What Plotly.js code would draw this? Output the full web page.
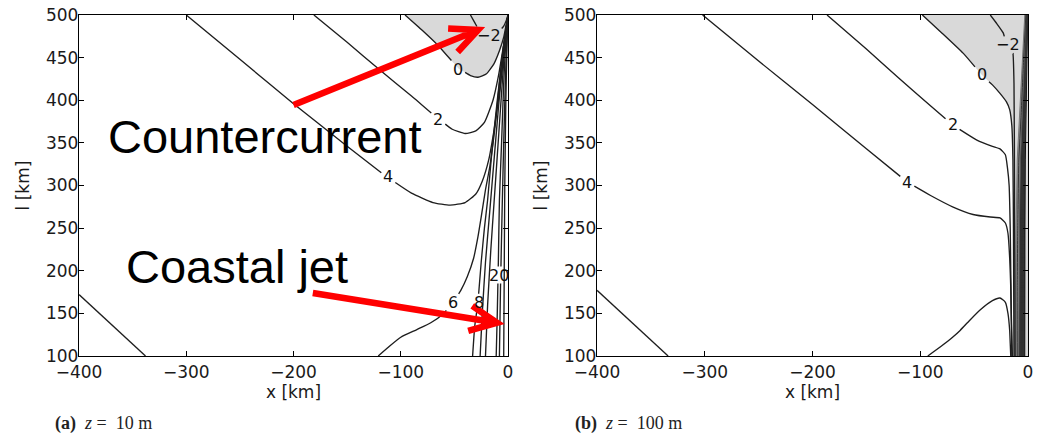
<!DOCTYPE html>
<html><head><meta charset="utf-8">
<script src="https://cdn.plot.ly/plotly-3.0.1.min.js"></script>
<style>html,body{margin:0;padding:0;background:#fff}</style>
</head><body><div id="chart" style="width:1039px;height:435px"></div>
<script>
// ---------- axes / ticks ----------
const xTicks = [-400,-300,-200,-100,0];
const yTicks = [100,150,200,250,300,350,400,450,500];
const xRange = [-400,0];
const yRange = [100,500];

// ---------- panel (a): z = 10 m ----------
const aEdgeX = [-400,-338];
const aEdgeY = [172,100];
const a4X = [-300,-250,-200,-150,-113,-90,-70,-54,-40,-30,-24,-18,-13,-9,-5,-2,0];
const a4Y = [500,448,396,346,310,291,280,277,280,290,305,330,365,400,440,475,500];
const a2X = [-181,-150,-120,-90,-66,-52,-40,-30,-22,-14,-9,-5,-2,0];
const a2Y = [500,468,436,405,379,366,361,364,374,400,428,458,482,500];
const a0X = [-96,-80,-65,-46,-35,-28,-20,-13,-8,-4,-1.5,0];
const a0Y = [500,482,464,437,429,427,431,443,458,474,490,500];
const am2X = [-35,-31,-27,-22,-15,-8,-4,-1.5,0];
const am2Y = [500,491,482,479,478,481,487,494,500];
const a6X = [-121,-110,-100,-85,-72,-60,-51,-44,-38,-32,-28,-25,-21,-17,-12,-8,-4,0];
const a6Y = [100,112,122,131,139,150,163,177,193,215,240,263,295,322,370,420,465,500];
const a8X = [-33,-31,-28,-25,-22,-19,-15,-10,-5,0];
const a8Y = [100,135,163,210,250,283,340,400,455,500];
const a10X = [-26,-24,-21,-17,-13,-9,-5,-2,0];
const a10Y = [100,150,210,270,330,390,445,480,500];
const a14X = [-21,-19,-16,-13,-10,-7,-4,-2,0];
const a14Y = [100,160,225,280,335,390,445,478,500];
const a20X = [-11,-10,-9,-8,-6,-4,-2,0];
const a20Y = [100,150,210,283,350,420,470,500];
const a30X = [-8,-7,-5.5,-4,-2.5,-1,0];
const a30Y = [100,180,270,350,420,475,500];
const a40X = [-4,-3.5,-3,-2,-1,0];
const a40Y = [100,200,300,400,460,500];
const aLabelText = ['4','2','0','\u22122','6','8','20'];
const aLabelX = [-111.6,-65,-46.5,-17.5,-51,-27,-8.4];
const aLabelY = [310,377,436.6,476.5,163,163,195];

// ---------- panel (b): z = 100 m ----------
const bEdgeX = [-400,-334];
const bEdgeY = [177,100];
const b4X = [-302,-250,-200,-150,-112,-90,-70,-51,-35,-26,-21,-18.6,-17,-16,-15.5,-15];
const b4Y = [500,446,395,343,304,288,275,266,263,262,256,244,215,180,140,100];
const b2X = [-186.5,-150,-120,-90,-70,-47,-33,-26,-21,-19,-17.5,-16.5,-16,-15.5,-14.5];
const b2Y = [500,460,426,393,371,353,346,343,336,320,300,250,200,150,100];
const b0X = [-98,-80,-60,-43,-33,-26,-20,-17,-15,-14,-13.5,-13];
const b0Y = [500,479,455,430,418,408,398,389,370,330,250,100];
const bm2X = [-35,-29,-23,-19.5,-14,-13,-12.5,-12];
const bm2Y = [500,490,479,465,455,420,300,100];
const b6X = [-93,-80,-70,-63,-54,-44.5,-33,-26,-21,-18.6,-17,-16.5,-16];
const b6Y = [100,112,122,130,142,154,165,168,163,150,130,115,100];
const bCoastY = [500,450,380,330,250,180,100];
const bK1X = [-3,-5,-8,-10,-11,-11.5,-12];
const bK2X = [-2,-4,-6.5,-8.5,-9.5,-10,-10];
const bK3X = [-1.5,-3,-5,-7,-8,-8.5,-8.5];
const bK4X = [-1,-2.5,-4,-5.5,-6.5,-7,-7];
const bK5X = [-0.8,-2,-3,-4.5,-5.5,-5.5,-5.5];
const bK6X = [-0.5,-1.5,-2.5,-3.5,-4,-4,-4];
const bK7X = [-0.3,-1,-1.8,-2.5,-2.8,-3,-3];
const bLabelText = ['4','2','0','\u22122'];
const bLabelX = [-112,-70,-42.7,-18.5];
const bLabelY = [304,371,430,465];

// ---------- annotations (panel a data coords) ----------
const arrowTailX = [-200,-182];
const arrowTailY = [394.4,174];
const arrowTipX = [-27.9,-10.2];
const arrowTipY = [482.4,139];

// ---------- build ----------
const W = 1039, H = 435;
const dom1 = [79/W, 508/W], dom2 = [597/W, 1028/W];
const ydom = [1-356/H, 1-15/H];
const pxPerX = (dom1[1]-dom1[0])*W/(xRange[1]-xRange[0]);
const pxPerY = (ydom[1]-ydom[0])*H/(yRange[1]-yRange[0]);
const shade = '#d9d9d9';
const lineCol = '#1e1e1e';

// clabel-style gaps: cut each contour where its label box sits (box in pixels)
function gaps(xs, ys, boxes) {
  let segs = [];
  for (let i = 0; i < xs.length-1; i++) segs.push([[xs[i]*pxPerX, ys[i]*pxPerY],[xs[i+1]*pxPerX, ys[i+1]*pxPerY]]);
  boxes.forEach(b => {
    const cx = b[0]*pxPerX, cy = b[1]*pxPerY, hw = b[2], hh = b[3];
    const next = [];
    segs.forEach(s => {
      const P = s[0], Q = s[1], dx = Q[0]-P[0], dy = Q[1]-P[1];
      const p = [-dx, dx, -dy, dy], q = [P[0]-(cx-hw), (cx+hw)-P[0], P[1]-(cy-hh), (cy+hh)-P[1]];
      let t0 = 0, t1 = 1, hit = true;
      for (let k = 0; k < 4; k++) {
        if (p[k] === 0) { if (q[k] < 0) { hit = false; break; } }
        else { const r = q[k]/p[k]; if (p[k] < 0) t0 = Math.max(t0, r); else t1 = Math.min(t1, r); }
      }
      if (!hit || t0 > t1) { next.push(s); return; }
      if (t0 > 0) next.push([P, [P[0]+t0*dx, P[1]+t0*dy]]);
      if (t1 < 1) next.push([[P[0]+t1*dx, P[1]+t1*dy], Q]);
    });
    segs = next;
  });
  const X = [], Y = []; let last = null;
  segs.forEach(s => {
    if (last && Math.abs(last[0]-s[0][0]) < 1e-6 && Math.abs(last[1]-s[0][1]) < 1e-6) {
      X.push(s[1][0]/pxPerX); Y.push(s[1][1]/pxPerY);
    } else {
      if (X.length) { X.push(null); Y.push(null); }
      X.push(s[0][0]/pxPerX, s[1][0]/pxPerX); Y.push(s[0][1]/pxPerY, s[1][1]/pxPerY);
    }
    last = s[1];
  });
  return [X, Y];
}
function box(txt, x, y) { return [x, y, txt.length > 1 ? 12.5 : 7, 8.5]; }

const traces = [];
function fillTrace(x, y, xa, ya) {
  traces.push({type:'scatter', mode:'lines', x:x, y:y, xaxis:xa, yaxis:ya, fill:'toself',
    fillcolor:shade, line:{width:0}, hoverinfo:'skip', showlegend:false});
}
function line(x, y, xa, ya, col, w, boxes) {
  const g = boxes ? gaps(x, y, boxes) : [x, y];
  traces.push({type:'scatter', mode:'lines', x:g[0], y:g[1], xaxis:xa, yaxis:ya, connectgaps:false,
    line:{color:col||lineCol, width:w||1.35, shape:'spline', smoothing:0.5}, hoverinfo:'skip', showlegend:false});
}
const aB = aLabelText.map((t, i) => box(t, aLabelX[i], aLabelY[i]));
const bB = bLabelText.map((t, i) => box(t, bLabelX[i], bLabelY[i]));
// panel a
fillTrace(a0X, a0Y, 'x', 'y');
line(aEdgeX, aEdgeY, 'x', 'y');
line(a4X, a4Y, 'x', 'y', null, null, [aB[0]]);
line(a2X, a2Y, 'x', 'y', null, null, [aB[1]]);
line(a0X, a0Y, 'x', 'y', null, null, [aB[2]]);
line(am2X, am2Y, 'x', 'y', null, null, [aB[3]]);
line(a6X, a6Y, 'x', 'y', null, null, [aB[4]]);
line(a8X, a8Y, 'x', 'y', null, null, [aB[5]]);
line(a10X, a10Y, 'x', 'y');
line(a14X, a14Y, 'x', 'y');
line(a20X, a20Y, 'x', 'y', null, null, [aB[6]]);
line(a30X, a30Y, 'x', 'y', null, null, [aB[6]]);
line(a40X, a40Y, 'x', 'y');
// panel b
fillTrace(b0X.concat([xRange[1], xRange[1]]), b0Y.concat([yRange[0], yRange[1]]), 'x2', 'y2');
traces.push({type:'scatter', mode:'lines', x:bK1X, y:bCoastY, xaxis:'x2', yaxis:'y2', line:{color:'#777', width:1}, hoverinfo:'skip', showlegend:false});
traces.push({type:'scatter', mode:'lines', x:bK3X, y:bCoastY, xaxis:'x2', yaxis:'y2', fill:'tonextx', fillcolor:'#8c8c8c', line:{color:'#555', width:1}, hoverinfo:'skip', showlegend:false});
traces.push({type:'scatter', mode:'lines', x:bK7X, y:bCoastY, xaxis:'x2', yaxis:'y2', fill:'tonextx', fillcolor:'#2e2e2e', line:{color:'#111', width:1}, hoverinfo:'skip', showlegend:false});
line(bEdgeX, bEdgeY, 'x2', 'y2');
line(b4X, b4Y, 'x2', 'y2', null, null, [bB[0]]);
line(b2X, b2Y, 'x2', 'y2', null, null, [bB[1]]);
line(b0X, b0Y, 'x2', 'y2', null, null, [bB[2]]);
line(bm2X, bm2Y, 'x2', 'y2', null, null, [bB[3]]);
line(b6X, b6Y, 'x2', 'y2');
[bK2X,bK4X,bK5X,bK6X].forEach(x => line(x, bCoastY, 'x2', 'y2', '#333', 1));

const fontTick = {family:'DejaVu Sans, Verdana, sans-serif', size:17, color:'#1a1a1a'};
function xa(dom, anchor) {
  return {domain:dom, anchor:anchor, range:xRange, tickvals:xTicks, ticks:'inside', ticklen:5,
    tickcolor:'#000', showline:true, linecolor:'#000', linewidth:1.2, mirror:'ticks', showgrid:false,
    zeroline:false, tickfont:fontTick, fixedrange:true,
    title:{text:'x [km]', font:fontTick, standoff:4}};
}
function ya(anchor) {
  return {domain:ydom, anchor:anchor, range:yRange, tickvals:yTicks, ticks:'inside', ticklen:5,
    tickcolor:'#000', showline:true, linecolor:'#000', linewidth:1.2, mirror:'ticks', showgrid:false,
    zeroline:false, tickfont:fontTick, fixedrange:true, ticklabelstandoff:-4,
    title:{text:'l [km]', font:fontTick, standoff:12}};
}

const annotations = [];
function addLabels(txt, xs, ys, xr, yr) {
  txt.forEach((t, i) => {
    annotations.push({text:t, x:xs[i], y:ys[i], xref:xr, yref:yr, showarrow:false,
      font:{family:'DejaVu Sans, Verdana, sans-serif', size:16, color:'#111'}, borderpad:0});
  });
}
addLabels(aLabelText, aLabelX, aLabelY, 'x', 'y');
addLabels(bLabelText, bLabelX, bLabelY, 'x2', 'y2');

const bigFont = {family:'Liberation Sans, Arial, sans-serif', size:47, color:'#000'};
annotations.push({text:'Countercurrent', x:265/W, y:1-136/H, xref:'paper', yref:'paper', showarrow:false, font:bigFont, xanchor:'center', yanchor:'middle'});
annotations.push({text:'Coastal jet', x:236.5/W, y:1-266/H, xref:'paper', yref:'paper', showarrow:false, font:bigFont, xanchor:'center', yanchor:'middle'});
const capFont = {family:'Liberation Serif, Times New Roman, serif', size:18, color:'#222'};
annotations.push({text:'<b>(a)</b>\u00a0\u00a0<i>z</i>\u00a0=\u00a0\u00a010\u00a0m', x:53/W, y:1-423/H, xref:'paper', yref:'paper', showarrow:false, font:capFont, xanchor:'left', yanchor:'middle'});
annotations.push({text:'<b>(b)</b>\u00a0\u00a0<i>z</i>\u00a0=\u00a0\u00a0100\u00a0m', x:573/W, y:1-423/H, xref:'paper', yref:'paper', showarrow:false, font:capFont, xanchor:'left', yanchor:'middle'});

// red arrows: chevron heads computed in pixel space, expressed in panel-a data coords
const shapes = [];
arrowTailX.forEach((_, i) => {
  const tx = arrowTailX[i], ty = arrowTailY[i], hx = arrowTipX[i], hy = arrowTipY[i];
  const dxp = (tx-hx)*pxPerX, dyp = (ty-hy)*pxPerY;
  const L = Math.hypot(dxp, dyp), ux = dxp/L, uy = dyp/L;
  const ang = 25*Math.PI/180, len = 30;
  const legs = [ang, -ang].map(a => {
    const rx = ux*Math.cos(a) - uy*Math.sin(a), ry = ux*Math.sin(a) + uy*Math.cos(a);
    return [hx + rx*len/pxPerX, hy + ry*len/pxPerY];
  });
  const path = `M${tx},${ty} L${hx},${hy} M${legs[0][0]},${legs[0][1]} L${hx},${hy} L${legs[1][0]},${legs[1][1]}`;
  shapes.push({type:'path', path:path, xref:'x', yref:'y', line:{color:'#ff0000', width:6.5}, layer:'above'});
});

const layout = {
  width:W, height:H, margin:{l:0,r:0,t:0,b:0}, paper_bgcolor:'#fff', plot_bgcolor:'#fff',
  showlegend:false,
  xaxis:xa(dom1,'y'), yaxis:ya('x'),
  xaxis2:xa(dom2,'y2'), yaxis2:ya('x2'),
  annotations:annotations, shapes:shapes
};
Plotly.newPlot('chart', traces, layout, {staticPlot:true, displayModeBar:false});
</script></body></html>
